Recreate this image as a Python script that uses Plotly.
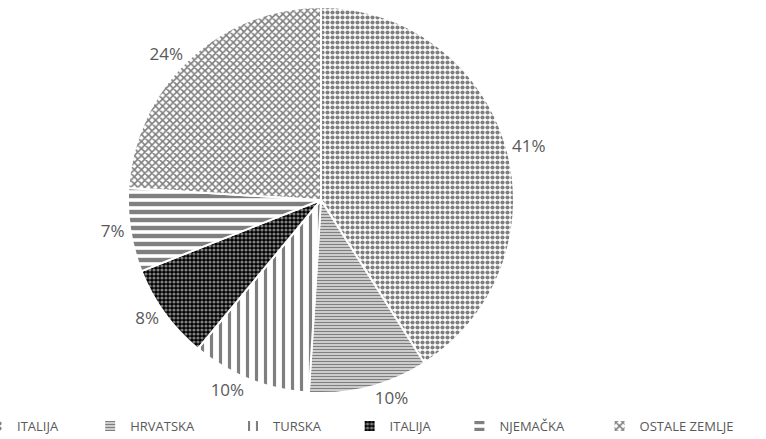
import plotly.graph_objects as go

labels = ["ITALIJA", "HRVATSKA", "TURSKA", "ITALIJA", "NJEMAČKA", "OSTALE ZEMLJE"]
values = [41, 10, 10, 8, 7, 24]

# razmak iza naziva u legendi (ujedno razlikuje dvije ITALIJE)
pad = [8, 10, 7, 7, 9, 0]
legend_labels = [l + "\u00a0" * p for l, p in zip(labels, pad)]

# uzorci ispune za svaki isječak
shapes = [".", "-", "|", ".", "-", "x"]
sizes = [5, 3, 9, 4, 8, 5]
solidity = [0.55, 0.6, 0.35, 0.5, 0.55, 0.55]
fg = ["black", "black", "black", "white", "black", "black"]
bg = ["white", "white", "white", "black", "white", "white"]

fig = go.Figure()
fig.add_trace(go.Pie(
    labels=legend_labels,
    values=values,
    sort=False,
    direction="clockwise",
    rotation=0,
    textinfo="percent",
    textposition="outside",
    texttemplate="%{percent:.0%}",
    textfont=dict(size=17, color="#595959"),
    marker=dict(
        colors=bg,
        line=dict(color="white", width=2),
        pattern=dict(shape=shapes, size=sizes, solidity=solidity,
                     fgcolor=fg, bgcolor=bg, fillmode="overlay"),
    ),
    domain=dict(x=[0.167, 0.671], y=[0.039, 0.983]),
    showlegend=True,
))

fig.update_layout(
    width=766,
    height=439,
    margin=dict(l=0, r=0, t=0, b=30, autoexpand=False),
    paper_bgcolor="white",
    plot_bgcolor="white",
    font=dict(family="Open Sans, Liberation Sans, sans-serif", color="#595959"),
    legend=dict(
        orientation="h",
        x=-0.03, xanchor="left",
        y=-0.005, yanchor="top",
        bgcolor="rgba(0,0,0,0)",
        font=dict(size=13, color="#595959"),
        itemwidth=30,
    ),
)

# bez zadane margine stranice
fig.write_html("out.html", config={"displayModeBar": False},
               post_script="document.body.style.margin='0';")
